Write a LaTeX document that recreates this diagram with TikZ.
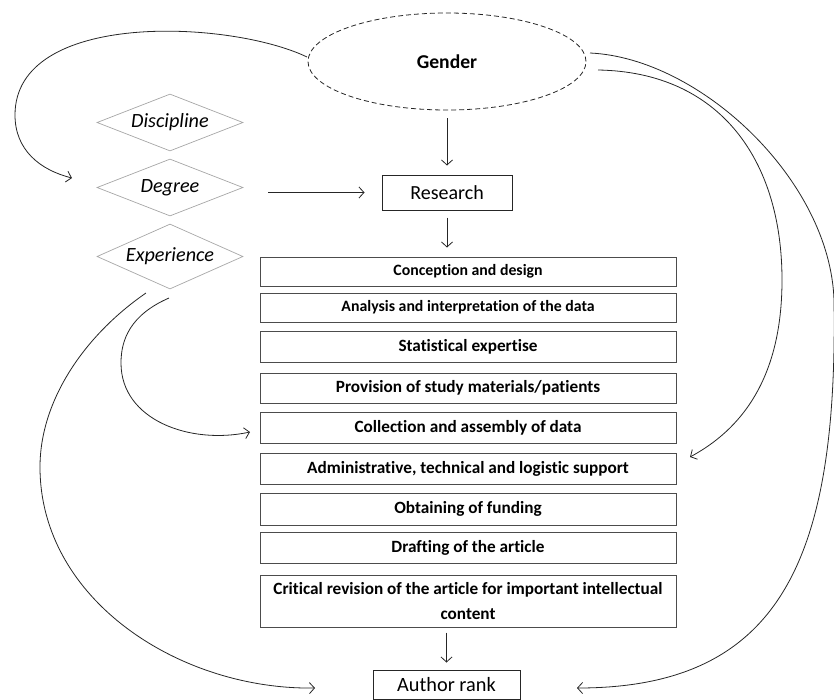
\documentclass[tikz,border=0pt]{standalone}
\usepackage{fontspec}
\setmainfont{Carlito}[Ligatures=NoCommon]
\usetikzlibrary{arrows.meta,shapes.geometric}
\begin{document}
\begin{tikzpicture}[x=1pt,y=-1pt,
  conn/.style={draw=black!85, line width=0.8pt, -{Straight Barb[length=5pt,width=11pt]}},
  box/.style={draw=black!70, line width=1pt, minimum width=416pt, inner sep=0pt,
    font=\bfseries\fontsize{17.2}{21.5}\selectfont},
  smallbox/.style={box, font=\bfseries\fontsize{15.8}{20}\selectfont},
  dia/.style={diamond, draw=black!35, line width=0.7pt, minimum width=146pt,
    minimum height=57pt, inner sep=0pt, font=\itshape\fontsize{20.2}{22}\selectfont},
  mainbox/.style={draw=black!85, line width=1pt, inner sep=0pt,
    font=\fontsize{20.3}{24}\selectfont},
]
\useasboundingbox (0,0) rectangle (834,699);

\node[ellipse, draw=black!85, line width=0.8pt, dash pattern=on 5pt off 3pt,
  minimum width=278pt, minimum height=97pt, inner sep=0pt,
  font=\bfseries\fontsize{19.6}{22}\selectfont] (gender) at (447,61.5) {Gender};

\node[dia] (disc) at (170,122.5) {\makebox[0pt]{Discipline}};
\node[dia] (deg) at (170,187.5) {\makebox[0pt]{Degree}};
\node[dia, minimum height=65pt] (exp) at (170,256.5) {\makebox[0pt]{Experience}};

\node[mainbox, minimum width=130pt, minimum height=35pt, font=\fontsize{20}{24}\selectfont] (research) at (447,192.5) {Research};

\node[smallbox, minimum height=29pt] (b1) at (468,271.5) {Conception and design};
\node[smallbox, minimum height=29pt] (b2) at (468,307.5) {Analysis and interpretation of the data};
\node[box, minimum height=31pt] (b3) at (468,346.5) {Statistical expertise};
\node[box, minimum height=30pt] (b4) at (468,388) {Provision of study materials/patients};
\node[box, minimum height=31pt] (b5) at (468,427.5) {Collection and assembly of data};
\node[box, minimum height=31pt] (b6) at (468,468.5) {Administrative, technical and logistic support};
\node[box, minimum height=32pt] (b7) at (468,509) {Obtaining of funding};
\node[box, minimum height=31pt] (b8) at (468,547.5) {Drafting of the article};
\node[box, minimum height=52pt, align=center, font=\bfseries\fontsize{17.2}{25}\selectfont] (b9) at (468,601)
  {Critical revision of the article for important intellectual\\content};

\node[mainbox, minimum width=147pt, minimum height=29pt] (author) at (446.5,684.5) {Author rank};

% straight connectors
\draw[conn, shorten <=8pt, shorten >=9pt] (gender) -- (research);
\draw[conn, shorten <=25pt, shorten >=17pt] (deg.east |- research.west) -- (research.west);
\draw[conn, shorten <=7pt, shorten >=9pt] (research.south) -- (research.south |- b1.north);
\draw[conn, shorten <=5pt, shorten >=7pt] (author.north |- b9.south) -- (author.north);

% curved connectors
\coordinate (c1s) at (307,57);
\coordinate (c1e) at (72,178);
\coordinate (c2s) at (590,53);
\coordinate (c2e) at (577,688);
\coordinate (c3s) at (598,70);
\coordinate (c3e) at (690,457);
\coordinate (c4s) at (169,298);
\coordinate (c4e) at (250,432);
\coordinate (c5s) at (146,293);
\coordinate (c5e) at (315,688);

\draw[conn] (c1s) .. controls (230,20) and (15,10) .. (15,115)
  .. controls (15,150) and (40,170) .. (c1e);
\draw[conn] (c2s) .. controls (700,58) and (830,180) .. (834,300)
  .. controls (838,560) and (780,688) .. (c2e);
\draw[conn] (c3s) .. controls (720,72) and (782,160) .. (782,280)
  .. controls (782,380) and (740,430) .. (c3e);
\draw[conn] (c4s) .. controls (130,315) and (121,340) .. (121,363)
  .. controls (121,420) and (190,445) .. (c4e);
\draw[conn] (c5s) .. controls (85,335) and (40,400) .. (40,467)
  .. controls (40,600) and (180,690) .. (c5e);
\end{tikzpicture}
\end{document}
